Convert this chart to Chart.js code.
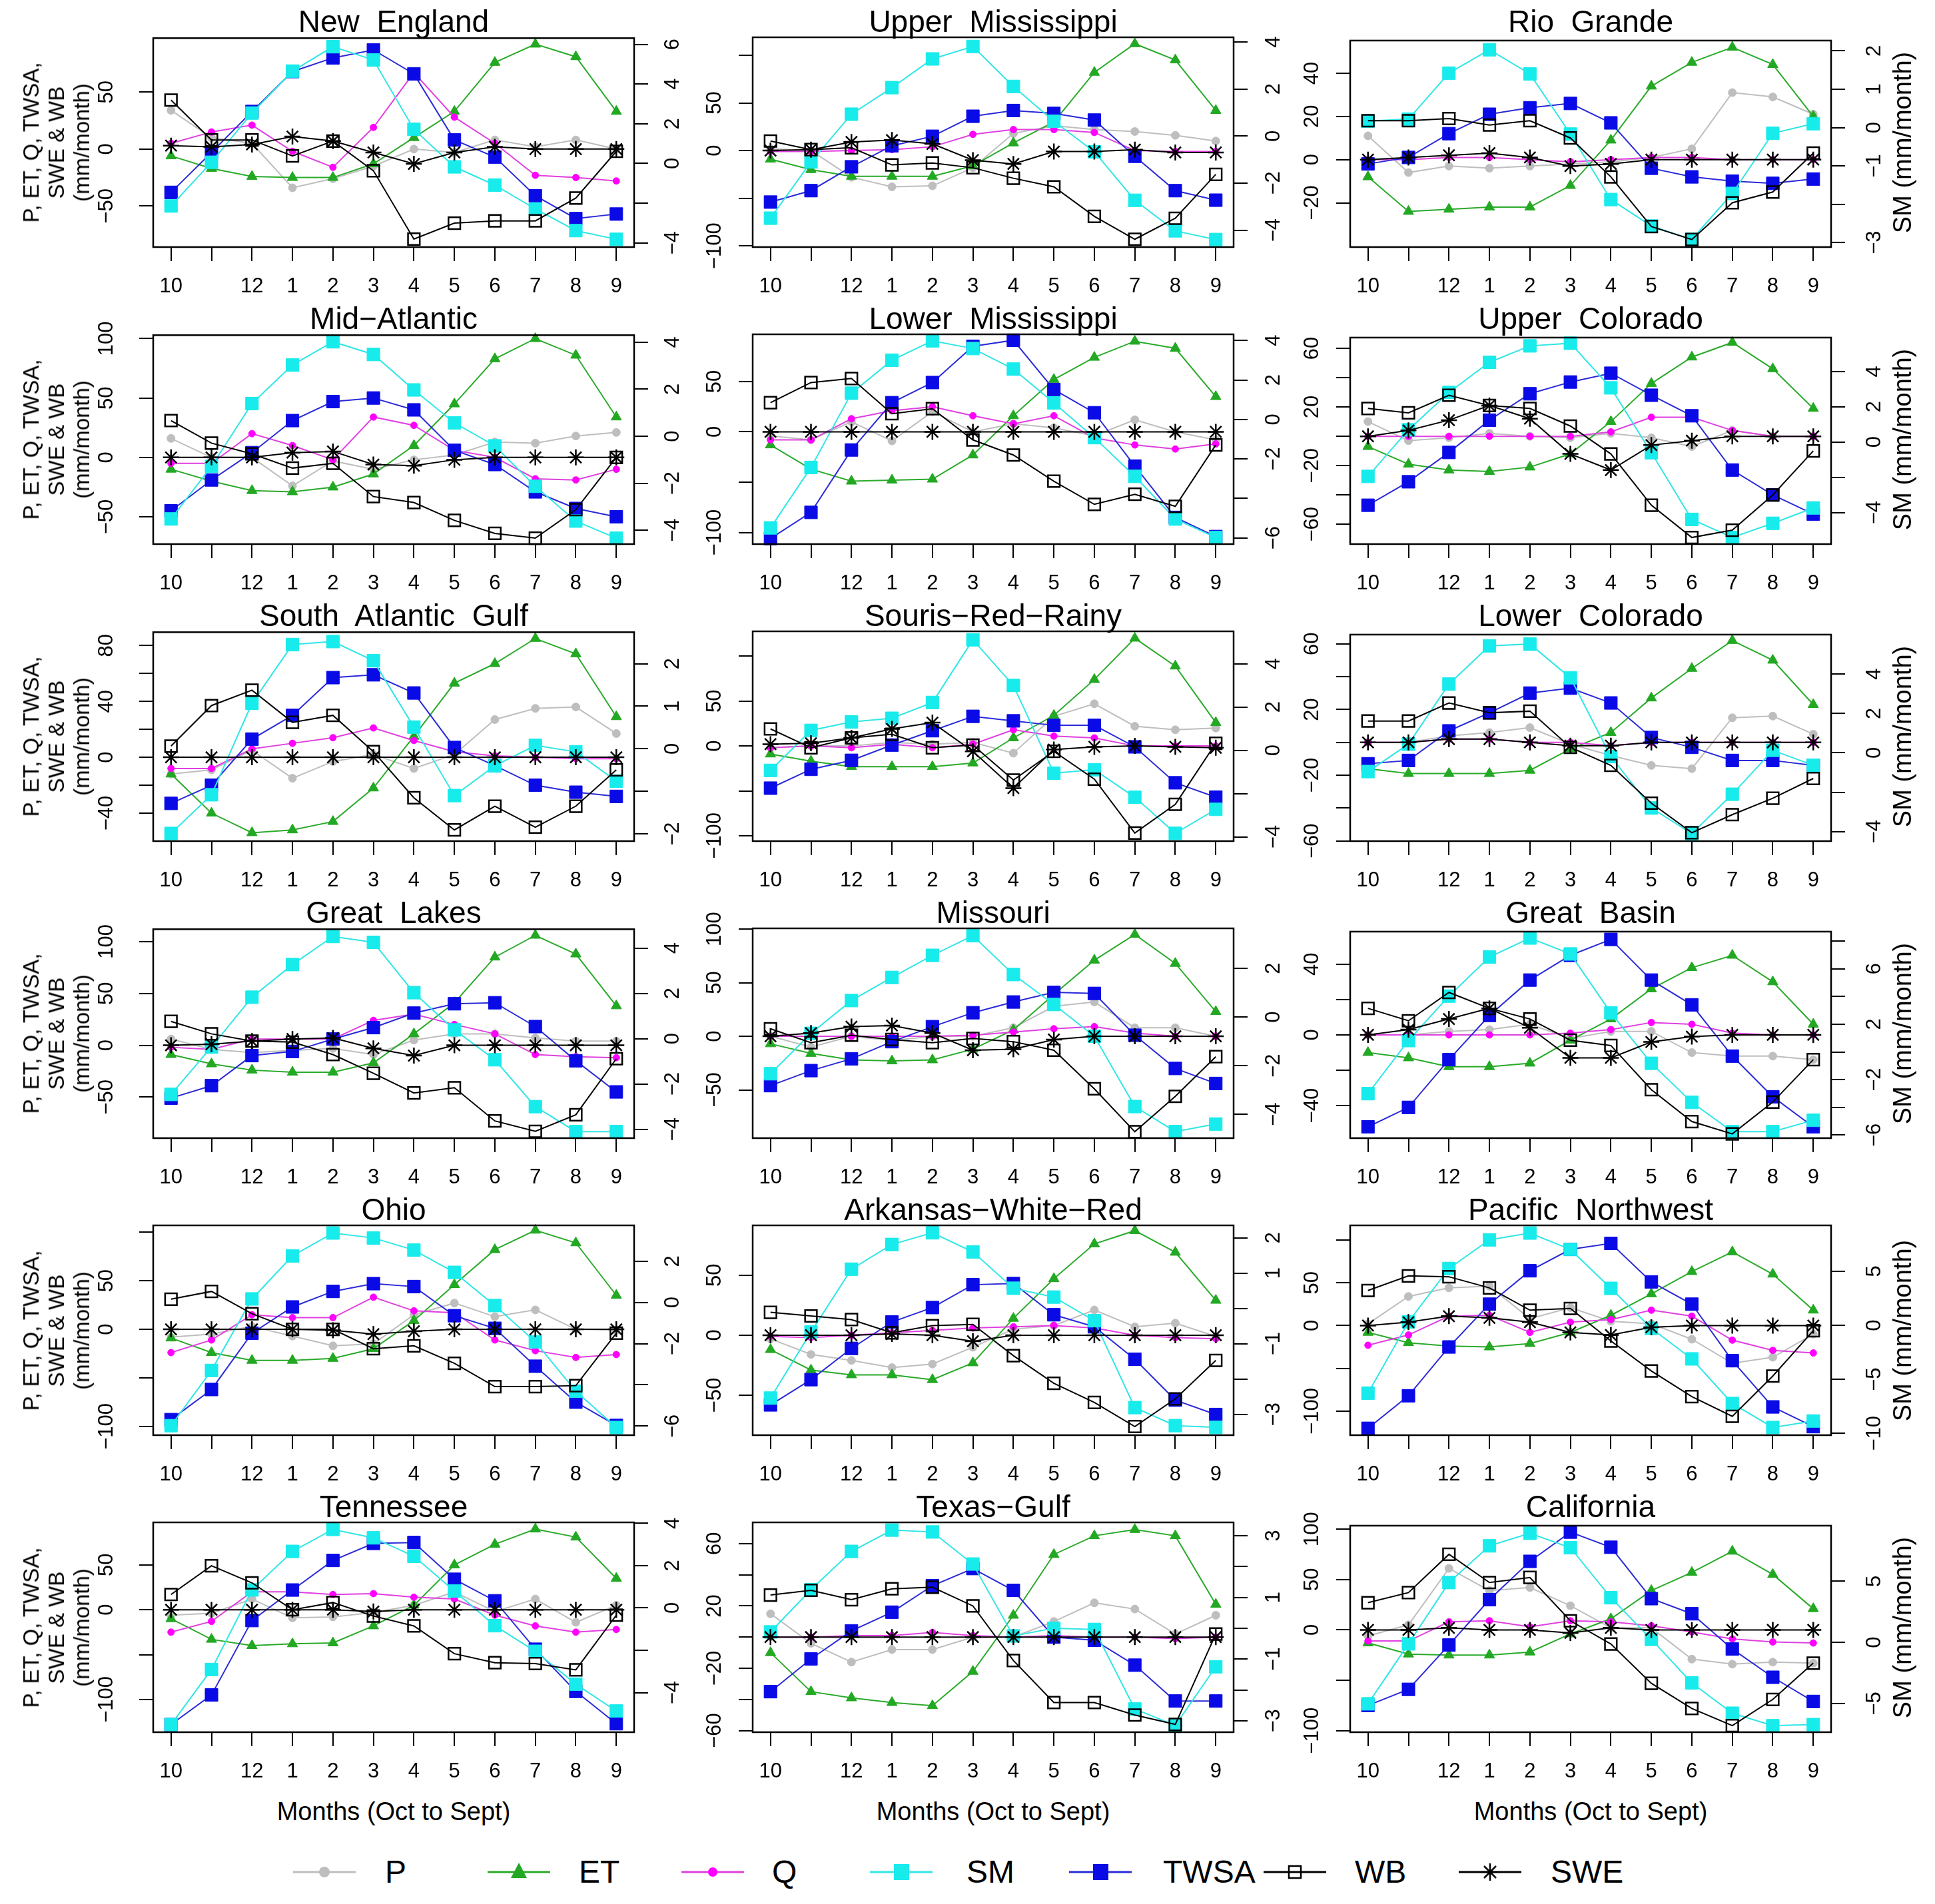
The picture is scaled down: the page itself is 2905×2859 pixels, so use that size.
<!DOCTYPE html>
<html><head><meta charset="utf-8">
<script src="https://cdn.jsdelivr.net/npm/chart.js@4.4.1/dist/chart.umd.min.js"></script>
<style>
html,body{margin:0;padding:0;background:#fff;}
body{width:2905px;height:2859px;position:relative;overflow:hidden;font-family:"Liberation Sans",Arial,Helvetica,sans-serif;color:#000;}
.wrap{position:absolute;}
.txt{position:absolute;white-space:pre;color:#000;z-index:5;}
.ttl{font-size:46px;text-align:center;line-height:46px;height:46px;}
.rot{transform:translate(-50%,-50%) rotate(-90deg);text-align:center;}
.leg{position:absolute;z-index:5;}
</style></head><body>
<script>
// ---------------- data ----------------
const regions = ["New  England","Upper  Mississippi","Rio  Grande",
  "Mid\u2212Atlantic","Lower  Mississippi","Upper  Colorado",
  "South  Atlantic  Gulf","Souris\u2212Red\u2212Rainy","Lower  Colorado",
  "Great  Lakes","Missouri","Great  Basin",
  "Ohio","Arkansas\u2212White\u2212Red","Pacific  Northwest",
  "Tennessee","Texas\u2212Gulf","California"];
const monthLabels = ["10","","12","1","2","3","4","5","6","7","8","9"];
const seriesNames = ["P","ET","Q","SM","TWSA","WB","SWE"];

const P = [
 [34,10,5,-34,-26,-15,0,-3,8,2,8,0],
 [2,0,-28,-38,-37,-18,18,26,22,20,16,10],
 [11,-6,-3,-4,-3,-2,-1,1,5,31,29,21],
 [16,0,0,-24,-3,-10,-2,2,13,12,18,21],
 [-4,-8,10,-9,20,0,8,4,-4,12,0,-8],
 [10,-3,-1,2,0,-1,2,-1,-7,4,0,0],
 [-12,-9,5,-15,-3,2,-8,2,27,35,36,17],
 [-2,0,0,4,2,4,-8,33,47,22,18,20],
 [0,0,4,6,9,-1,-8,-14,-16,15,16,5],
 [6,-4,-7,-5,-3,-9,5,11,11,7,4,4],
 [0,-10,0,-4,0,0,8,28,32,8,8,0],
 [0,0,2,3,6,-2,2,2,-10,-12,-12,-14],
 [-8,-5,3,-7,-17,-15,15,27,13,20,0,-1],
 [-3,-16,-21,-27,-24,-10,5,8,21,7,10,-1],
 [2,34,44,46,8,21,5,2,-16,-44,-37,-10],
 [-6,-4,12,-9,-8,-3,5,20,-2,12,-14,5],
 [15,-4,-16,-8,-8,0,0,10,22,18,2,14],
 [-6,5,61,39,42,24,2,2,-29,-34,-32,-33]
];
const ET = [
 [-6,-17,-24,-25,-25,-13,10,33,76,92,81,33],
 [-9,-20,-27,-27,-27,-16,8,30,82,112,95,42],
 [-8,-24,-23,-22,-22,-12,9,34,45,52,44,20],
 [-10,-20,-28,-29,-25,-14,10,45,83,100,86,34],
 [-13,-37,-49,-48,-47,-23,16,52,74,90,83,35],
 [-7,-19,-23,-24,-21,-12,10,36,54,64,46,19],
 [-12,-40,-54,-52,-46,-22,15,53,67,85,74,29],
 [-9,-17,-23,-23,-23,-19,9,34,74,120,89,26],
 [-16,-19,-19,-19,-17,-4,6,27,45,62,50,23],
 [-9,-18,-24,-26,-26,-17,11,41,85,106,88,38],
 [-7,-16,-22,-23,-22,-12,6,39,71,95,68,23],
 [-10,-13,-18,-18,-16,-3,9,26,38,45,30,6],
 [-9,-24,-32,-32,-30,-20,9,46,82,102,89,35],
 [-12,-29,-33,-33,-37,-23,14,47,76,87,69,29],
 [-8,-20,-24,-25,-21,-8,12,37,63,86,60,18],
 [-10,-33,-40,-38,-37,-18,5,50,73,90,81,35],
 [-10,-35,-39,-42,-44,-22,14,53,65,69,65,21],
 [-13,-24,-25,-25,-22,-4,11,39,57,78,55,21]
];
const Q = [
 [5,15,21,-2,-16,19,67,28,5,-23,-25,-28],
 [-1,-1,0,1,4,17,22,22,19,0,-1,-1],
 [0,0,1,1,0,-1,0,1,1,0,0,0],
 [-5,-5,20,10,-2,34,27,6,0,-18,-19,-10],
 [-8,-8,13,21,25,16,8,16,-6,-13,-17,-12],
 [0,0,0,0,0,0,3,13,13,4,0,0],
 [-8,-8,6,10,14,21,12,4,1,0,-1,-1],
 [-2,0,-2,2,-2,2,18,11,9,0,0,0],
 [0,0,2,2,0,0,-2,0,0,0,0,0],
 [-2,-4,6,6,6,24,30,20,11,-9,-11,-12],
 [0,0,0,0,0,1,4,7,9,3,0,0],
 [0,0,0,0,0,1,3,7,6,1,0,0],
 [-24,-11,15,12,12,33,19,17,-11,-22,-29,-26],
 [-1,-2,0,2,4,6,7,8,6,0,-2,-3],
 [-23,-11,11,12,-8,4,7,18,11,-17,-29,-32],
 [-25,-13,20,20,17,18,14,12,-6,-18,-25,-22],
 [0,0,1,1,3,1,0,1,0,0,-1,0],
 [-11,-11,8,9,3,9,8,4,-2,-9,-12,-13]
];
const SM = [
 [-2.14,0.06,2.54,4.65,5.88,5.21,1.72,-0.17,-1.09,-2.29,-3.38,-3.82],
 [-3.49,-1.10,0.93,2.06,3.28,3.81,2.11,0.63,-0.67,-2.73,-4.03,-4.40],
 [0.17,0.22,1.42,2.03,1.40,-0.17,-1.88,-2.57,-2.92,-1.72,-0.15,0.10],
 [-3.52,-1.28,1.39,3.03,4.02,3.48,1.97,0.57,-0.41,-2.13,-3.61,-4.34],
 [-5.49,-2.43,1.33,3.00,3.98,3.59,2.55,0.84,-0.92,-2.88,-5.04,-5.98],
 [-1.95,0.69,2.81,4.52,5.45,5.60,3.07,-0.61,-4.39,-5.41,-4.61,-3.74],
 [-1.99,-1.08,1.07,2.45,2.52,2.07,0.51,-1.10,-0.40,0.08,-0.07,-0.76],
 [-0.93,0.92,1.31,1.48,2.21,5.11,3.00,-1.06,-0.90,-2.17,-3.84,-2.73],
 [-0.95,0.44,3.49,5.43,5.52,3.81,-0.19,-2.80,-4.10,-2.10,0.13,-0.63],
 [-2.46,-0.37,1.83,3.27,4.51,4.25,2.03,0.39,-0.93,-3.00,-4.10,-4.10],
 [-2.33,-0.67,0.68,1.63,2.54,3.35,1.75,0.52,-0.79,-3.68,-4.71,-4.40],
 [-3.01,0.82,4.03,6.85,8.22,7.07,2.82,-0.82,-3.64,-5.75,-5.75,-4.93],
 [-5.98,-3.30,0.17,2.26,3.37,3.13,2.54,1.46,-0.15,-1.91,-4.31,-6.07],
 [-2.54,-0.67,1.11,1.81,2.14,1.60,0.57,0.32,-0.35,-2.81,-3.32,-3.37],
 [-6.28,0.32,5.26,7.91,8.54,7.02,3.42,-0.28,-3.11,-7.24,-9.46,-8.86],
 [-5.51,-2.91,0.85,2.67,3.71,3.31,2.44,0.80,-0.84,-2.05,-3.60,-4.87],
 [-0.12,1.25,2.49,3.18,3.12,2.08,-0.25,0.00,-0.04,-2.62,-3.15,-1.25],
 [-5.02,-0.12,4.89,7.89,8.92,7.74,3.65,0.25,-3.31,-5.79,-6.81,-6.72]
];
const TWSA = [
 [-38,-3,33,68,80,87,66,8,-7,-41,-61,-57],
 [-54,-42,-17,5,15,36,42,39,32,-6,-42,-52],
 [-2,1,12,21,24,26,17,-4,-8,-10,-11,-9],
 [-45,-19,4,31,47,50,40,6,-6,-29,-43,-50],
 [-106,-80,-18,29,49,85,91,42,19,-34,-85,-104],
 [-47,-31,-11,11,29,37,43,28,14,-23,-40,-53],
 [-33,-20,13,30,57,59,46,7,-6,-20,-25,-28],
 [-47,-26,-16,1,17,33,28,23,23,-1,-41,-57],
 [-13,-11,7,18,30,33,24,3,-3,-11,-11,-14],
 [-51,-39,-10,-6,6,17,31,40,41,18,-15,-45],
 [-46,-32,-21,-5,9,22,32,41,40,1,-30,-44],
 [-52,-41,-14,11,31,45,54,31,17,-12,-35,-52],
 [-93,-62,-4,23,39,47,44,14,1,-38,-75,-99],
 [-58,-37,-11,11,23,42,43,17,7,-20,-54,-66],
 [-120,-82,-25,25,64,89,96,51,25,-41,-95,-118],
 [-128,-95,-12,22,55,74,75,34,10,-44,-91,-127],
 [-35,-14,4,16,33,44,30,0,-2,-18,-41,-41],
 [-75,-59,-15,30,68,97,82,31,16,-19,-47,-71]
];
const WB = [
 [43,8,8,-6,7,-19,-79,-65,-63,-63,-43,-2],
 [10,1,3,-15,-13,-18,-29,-38,-69,-93,-71,-25],
 [18,18,19,16,18,10,-8,-31,-37,-20,-15,3],
 [31,12,3,-9,-5,-33,-38,-53,-64,-68,-44,0],
 [29,49,53,18,23,-8,-23,-49,-72,-62,-74,-13],
 [19,16,28,21,19,7,-12,-47,-69,-64,-40,-10],
 [8,37,48,25,30,4,-29,-52,-35,-50,-35,-9],
 [19,-2,9,13,-2,1,-38,-6,-37,-97,-65,3],
 [13,13,24,18,19,-3,-14,-37,-55,-44,-34,-22],
 [23,11,4,3,-9,-27,-46,-41,-73,-83,-67,-13],
 [7,-6,1,-3,-6,-2,-5,-13,-49,-89,-56,-19],
 [15,8,24,15,9,-3,-6,-31,-49,-56,-38,-14],
 [31,39,16,0,0,-20,-17,-35,-59,-59,-58,-4],
 [19,16,13,2,8,9,-17,-40,-56,-76,-53,-21],
 [41,58,57,44,18,20,-18,-53,-83,-106,-59,-6],
 [17,49,30,0,8,-7,-18,-49,-59,-60,-67,-6],
 [27,30,24,31,32,20,-15,-42,-42,-50,-56,2],
 [27,37,75,47,52,9,-14,-53,-78,-95,-69,-33]
];
const SWE = [
 [3,2,4,11,7,-3,-13,-3,2,0,0,0],
 [0,1,9,11,7,-10,-14,-1,-1,1,-2,-2],
 [0,1,2,3,1,-3,-2,0,0,0,0,0],
 [0,0,0,4,5,-6,-7,-2,0,0,0,0],
 [0,0,0,0,0,0,0,0,0,0,0,0],
 [0,4,11,21,12,-12,-23,-6,-3,0,0,0],
 [0,0,0,0,0,0,0,0,0,0,0,0],
 [2,3,9,19,26,-6,-47,-4,-1,0,-1,-2],
 [0,0,2,2,0,-2,-2,0,0,0,0,0],
 [0,1,4,6,7,-3,-10,0,0,0,0,0],
 [0,3,9,10,3,-13,-12,-3,0,0,0,0],
 [0,3,9,15,4,-13,-13,-4,-1,0,0,0],
 [0,0,0,0,-1,-5,-2,0,0,0,0,0],
 [0,0,0,1,0,-5,0,0,0,0,0,0],
 [0,4,11,9,4,-8,-11,-2,0,0,0,0],
 [0,0,0,0,0,-2,0,0,0,0,0,0],
 [0,0,0,0,0,0,0,0,0,0,0,0],
 [0,0,2,0,0,-3,2,0,0,0,0,0]
];
// left axis (P, ET, Q, TWSA, WB, SWE) and right axis (SM) ranges
const leftRange = [[-86,97.3],[-101.2,118.8],[-40.5,55.1],[-73,102.9],[-111.5,96.9],[-73.5,67.3],
 [-60,89.5],[-106,127.7],[-60.1,65.6],[-89.6,111.9],[-95,100.7],[-58.4,58.4],
 [-109,107],[-83.2,91.4],[-128,117],[-136.5,97.4],[-61,73.6],[-101.5,103.4]];
const rightRange = [[-4.21,6.31],[-4.72,4.2],[-3.12,2.27],[-4.59,4.3],[-6.31,4.31],[-5.79,5.92],
 [-2.17,2.74],[-4.2,5.5],[-4.48,6.0],[-4.39,4.83],[-4.98,3.65],[-6.22,8.68],
 [-6.44,3.74],[-3.59,2.35],[-10.17,9.25],[-5.87,4.04],[-3.37,3.43],[-7.34,9.54]];
const leftTicks = [[-50,0,50],[-100,-50,0,50,100],[-20,0,20,40],[-50,0,50,100],[-100,-50,0,50],[-60,-40,-20,0,20,40,60],
 [-40,-20,0,20,40,60,80],[-100,-50,0,50,100],[-60,-40,-20,0,20,40,60],[-50,0,50,100],[-50,0,50,100],[-40,-20,0,20,40],
 [-100,-50,0,50,100],[-50,0,50],[-100,-50,0,50,100],[-100,-50,0,50],[-60,-40,-20,0,20,40,60],[-100,-50,0,50,100]];
const leftTickLabels = [[-50,0,50],[-100,0,50],[-20,0,20,40],[-50,0,50,100],[-100,0,50],[-60,-20,20,60],
 [-40,0,40,80],[-100,0,50],[-60,-20,20,60],[-50,0,50,100],[-50,0,50,100],[-40,0,40],
 [-100,0,50],[-50,0,50],[-100,0,50],[-100,0,50],[-60,-20,20,60],[-100,0,50,100]];
const rightTicks = [[-4,-2,0,2,4,6],[-4,-2,0,2,4],[-3,-2,-1,0,1,2],[-4,-2,0,2,4],[-6,-4,-2,0,2,4],[-4,-2,0,2,4],
 [-2,-1,0,1,2],[-4,-2,0,2,4],[-4,-2,0,2,4],[-4,-2,0,2,4],[-4,-2,0,2],[-6,-4,-2,0,2,4,6,8],
 [-6,-4,-2,0,2],[-3,-2,-1,0,1,2],[-10,-5,0,5],[-4,-2,0,2,4],[-3,-2,-1,0,1,2,3],[-5,0,5]];
const rightTickLabels = [[-4,0,2,4,6],[-4,-2,0,2,4],[-3,-1,0,1,2],[-4,-2,0,2,4],[-6,-2,0,2,4],[-4,0,2,4],
 [-2,0,1,2],[-4,0,2,4],[-4,0,2,4],[-4,-2,0,2,4],[-4,-2,0,2],[-6,-2,2,6],
 [-6,-2,0,2],[-3,-1,1,2],[-10,-5,0,5],[-4,0,2,4],[-3,-1,1,3],[-5,0,5]];

// ---------------- layout / style ----------------
const FAM = '"Liberation Sans", Arial, Helvetica, sans-serif';
Chart.defaults.font.family = FAM;
Chart.defaults.color = '#000';
const FONT = 31;
const BOXW = 722, BOXH = 315;
const colLeft = [230, 1130, 2027];
const rowTop = [56, 502, 948, 1394, 1840, 2286];
const AXL = 120, AXR = 120, AXT = 40, AXB = 80;
const leftGap = [70, 57, 57], rightGap = [58, 60, 65];
const TICKLEN = 21;

const styles = {
  P:    {line:'#BEBEBE', fill:'#BEBEBE', pb:'#BEBEBE', pbw:1, ps:'circle', r:6, order:7},
  ET:   {line:'#2AAA2A', fill:'#22A822', pb:'#22A822', pbw:1, ps:'triangle', r:9, order:6},
  Q:    {line:'#E040E0', fill:'#FF00FF', pb:'#FF00FF', pbw:1, ps:'circle', r:5, order:5},
  TWSA: {line:'#2A2AD8', fill:'#0A0AE6', pb:'#0A0AE6', pbw:1, ps:'rect', r:13.5, order:4},
  SM:   {line:'#30E6E6', fill:'#18EBEB', pb:'#18EBEB', pbw:1, ps:'rect', r:13.5, order:3},
  WB:   {line:'#000000', fill:'rgba(0,0,0,0)', pb:'#000000', pbw:2.5, ps:'rect', r:12.5, order:2},
  SWE:  {line:'#000000', fill:'#000000', pb:'#000000', pbw:2.5, ps:'star', r:12, order:1}
};
const dataBy = {P, ET, Q, SM, TWSA, WB, SWE};

function fmt(v){ return v < 0 ? '\u2212' + String(-v) : String(v); }
const mctx = document.createElement('canvas').getContext('2d');
mctx.font = FONT + 'px ' + FAM;
function widest(vals){ let w = 0; vals.forEach(v => { w = Math.max(w, mctx.measureText(fmt(v)).width); }); return w; }

const boxPlugin = {
  id: 'rbox',
  afterDatasetsDraw(chart){
    const {ctx, chartArea:a} = chart;
    ctx.save(); ctx.strokeStyle = '#000'; ctx.lineWidth = 2.5;
    ctx.strokeRect(a.left, a.top, a.right - a.left, a.bottom - a.top);
    ctx.restore();
  }
};

function addText(txt, css, cls){
  const d = document.createElement('div');
  d.className = 'txt ' + (cls || '');
  d.textContent = txt;
  Object.assign(d.style, css);
  document.body.appendChild(d);
  return d;
}

function gridOpts(){
  return {display:true, drawOnChartArea:false, drawTicks:true, tickLength:TICKLEN, tickWidth:2, tickColor:'#000', color:'#000', lineWidth:2};
}

regions.forEach((name, i) => {
  const r = Math.floor(i / 3), c = i % 3;
  const bx = colLeft[c], by = rowTop[r];
  const wrap = document.createElement('div');
  wrap.className = 'wrap';
  wrap.style.left = (bx - AXL) + 'px';
  wrap.style.top = (by - AXT) + 'px';
  const cv = document.createElement('canvas');
  const cw = BOXW + AXL + AXR, ch = BOXH + AXT + AXB;
  cv.width = cw; cv.height = ch;
  cv.style.width = cw + 'px'; cv.style.height = ch + 'px';
  wrap.appendChild(cv);
  document.body.appendChild(wrap);

  const padL = leftGap[c] - TICKLEN - widest(leftTickLabels[i]) / 2;
  const padR = rightGap[c] - TICKLEN - widest(rightTickLabels[i]) / 2;

  const order = ['P','ET','Q','TWSA','SM','WB','SWE'];
  const datasets = order.map(k => {
    const s = styles[k];
    return {
      label: k,
      data: dataBy[k][i].map((v, m) => ({x: m, y: v})),
      yAxisID: k === 'SM' ? 'y1' : 'y',
      borderColor: s.line, backgroundColor: s.fill, borderWidth: 2,
      pointStyle: s.ps, pointRadius: s.r, pointBorderColor: s.pb,
      pointBackgroundColor: s.fill, pointBorderWidth: s.pbw,
      order: s.order, tension: 0, fill: false, clip: false, showLine: true
    };
  });

  new Chart(cv, {
    type: 'line',
    data: {datasets},
    plugins: [boxPlugin],
    options: {
      responsive: false, animation: false, devicePixelRatio: 1,
      layout: {padding: {top: AXT, left: 0, right: 0, bottom: 0}},
      plugins: {legend: {display: false}, tooltip: {enabled: false}, title: {display: false}},
      events: [],
      scales: {
        x: {
          type: 'linear', position: 'bottom', min: -0.44, max: 11.44, bounds: 'data',
          afterBuildTicks: s => { s.ticks = monthLabels.map((_, m) => ({value: m})); },
          ticks: {autoSkip: false, maxRotation: 0, minRotation: 0, padding: 20, font: {size: FONT}, color: '#000',
                  callback: (v, idx) => monthLabels[idx]},
          grid: gridOpts(), border: {display: false},
          afterFit: s => { s.height = AXB; }
        },
        y: {
          type: 'linear', position: 'left', min: leftRange[i][0], max: leftRange[i][1], bounds: 'data',
          afterBuildTicks: s => { s.ticks = leftTicks[i].map(v => ({value: v})); },
          ticks: {autoSkip: false, minRotation: 90, maxRotation: 90, crossAlign: 'center', padding: padL,
                  font: {size: FONT}, color: '#000',
                  callback: v => leftTickLabels[i].includes(v) ? fmt(v) : ''},
          grid: gridOpts(), border: {display: false},
          afterFit: s => { s.width = AXL; }
        },
        y1: {
          type: 'linear', position: 'right', min: rightRange[i][0], max: rightRange[i][1], bounds: 'data',
          afterBuildTicks: s => { s.ticks = rightTicks[i].map(v => ({value: v})); },
          ticks: {autoSkip: false, minRotation: 90, maxRotation: 90, crossAlign: 'center', padding: padR,
                  font: {size: FONT}, color: '#000',
                  callback: v => rightTickLabels[i].includes(v) ? fmt(v) : ''},
          grid: gridOpts(), border: {display: false},
          afterFit: s => { s.width = AXR; }
        }
      }
    }
  });

  // panel title
  addText(name, {left: bx + 'px', width: BOXW + 'px', top: (by - 24 - 23) + 'px'}, 'ttl');
  // left axis title
  if (c === 0) {
    addText('P, ET, Q, TWSA,\nSWE & WB\n(mm/month)',
      {left: '85px', top: (by + BOXH / 2) + 'px', fontSize: '33px', lineHeight: '38px'}, 'rot');
  }
  if (c === 2) {
    addText('SM (mm/month)',
      {left: '2856px', top: (by + BOXH / 2) + 'px', fontSize: '38px', lineHeight: '40px'}, 'rot');
  }
  if (r === 5) {
    addText('Months (Oct to Sept)',
      {left: (bx + BOXW / 2) + 'px', top: '2720px', fontSize: '38px', lineHeight: '44px', transform: 'translate(-50%,-50%)'});
  }
});

// ---------------- legend ----------------
const legendItems = [
  {k:'P', cx:487, tx:578},
  {k:'ET', cx:779, tx:869},
  {k:'Q', cx:1070, tx:1159},
  {k:'SM', cx:1353, tx:1451},
  {k:'TWSA', cx:1652, tx:1746},
  {k:'WB', cx:1944, tx:2034},
  {k:'SWE', cx:2237, tx:2328}
];
const LY = 2811;
function symbolSVG(k){
  const s = styles[k];
  let m = '';
  if (k === 'P') m = `<circle cx="50" cy="25" r="8" fill="${s.fill}"/>`;
  else if (k === 'Q') m = `<circle cx="50" cy="25" r="7" fill="${s.fill}"/>`;
  else if (k === 'ET') m = `<polygon points="50,11 62,34 38,34" fill="${s.fill}"/>`;
  else if (k === 'SM' || k === 'TWSA') m = `<rect x="39" y="13" width="23" height="24" fill="${s.fill}"/>`;
  else if (k === 'WB') m = `<rect x="41" y="16" width="18" height="18" fill="none" stroke="#000" stroke-width="2.5"/>`;
  else if (k === 'SWE') m = `<g stroke="#000" stroke-width="2.5"><line x1="50" y1="12" x2="50" y2="38"/><line x1="37" y1="25" x2="63" y2="25"/><line x1="41" y1="16" x2="59" y2="34"/><line x1="41" y1="34" x2="59" y2="16"/></g>`;
  return `<svg width="100" height="50" viewBox="0 0 100 50"><line x1="3" y1="25" x2="97" y2="25" stroke="${s.line}" stroke-width="3"/>${m}</svg>`;
}
legendItems.forEach(it => {
  const d = document.createElement('div');
  d.className = 'leg';
  d.style.left = (it.cx - 50) + 'px';
  d.style.top = (LY - 25) + 'px';
  d.innerHTML = symbolSVG(it.k);
  document.body.appendChild(d);
  addText(it.k, {left: it.tx + 'px', top: (LY - 27) + 'px', fontSize: '48px', lineHeight: '54px', height: '54px'});
});
</script>
</body></html>
